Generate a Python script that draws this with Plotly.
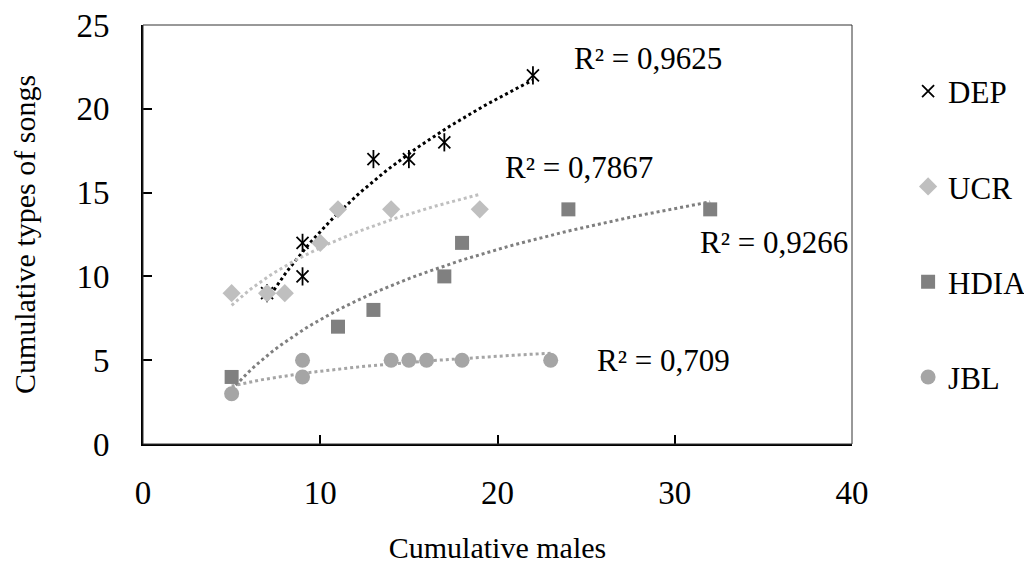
import numpy as np
import plotly.graph_objects as go

# ---- data ----
dep_x = [7, 9, 9, 13, 15, 17, 22]
dep_y = [9, 12, 10, 17, 17, 18, 22]
ucr_x = [5, 7, 8, 10, 11, 14, 19]
ucr_y = [9, 9, 9, 12, 14, 14, 14]
hdia_x = [5, 11, 13, 17, 18, 24, 32]
hdia_y = [4, 7, 8, 10, 12, 14, 14]
jbl_x = [5, 9, 9, 14, 15, 16, 18, 23]
jbl_y = [3, 5, 4, 5, 5, 5, 5, 5]
r2_labels = ["R² = 0,9625", "R² = 0,7867", "R² = 0,9266", "R² = 0,709"]
series_names = ["DEP", "UCR", "HDIA", "JBL"]
x_ticks = [0, 10, 20, 30, 40]
y_ticks = [0, 5, 10, 15, 20, 25]

FONT = "Liberation Serif"

series = [
    dict(name="DEP", x=dep_x, y=dep_y, color="#000000",
         marker=dict(symbol="x-thin-open", size=12, color="#000000",
                     line=dict(color="#000000", width=1.8))),
    dict(name="UCR", x=ucr_x, y=ucr_y, color="#BFBFBF",
         marker=dict(symbol="diamond", size=14, color="#BFBFBF")),
    dict(name="HDIA", x=hdia_x, y=hdia_y, color="#7F7F7F",
         marker=dict(symbol="square", size=14, color="#808080")),
    dict(name="JBL", x=jbl_x, y=jbl_y, color="#A5A5A5",
         marker=dict(symbol="circle", size=15, color="#A5A5A5")),
]

fig = go.Figure()

# logarithmic trendlines (least squares fit of y = a ln x + b)
for s in series:
    xs = np.array(s["x"], dtype=float)
    ys = np.array(s["y"], dtype=float)
    a, b = np.polyfit(np.log(xs), ys, 1)
    xt = np.linspace(xs.min(), xs.max(), 60)
    fig.add_trace(go.Scatter(x=xt, y=a * np.log(xt) + b, mode="lines",
                             line=dict(color=s["color"], width=3, dash="dot"),
                             showlegend=False, hoverinfo="skip"))

for i, s in enumerate(series):
    if s["name"] == "DEP":
        # vertical bar of the asterisk marker
        fig.add_trace(go.Scatter(x=s["x"], y=s["y"], mode="markers", showlegend=False,
                                 marker=dict(symbol="line-ns-open", size=13, color="#000",
                                             line=dict(color="#000", width=1.8)),
                                 hoverinfo="skip"))
    fig.add_trace(go.Scatter(x=s["x"], y=s["y"], mode="markers", name=s["name"],
                             marker=s["marker"], legendgroup=s["name"]))

ann_pos = [(24.2, 23.0), (20.3, 16.5), (31.3, 12.05), (25.5, 5.0)]
for (ax, ay), txt in zip(ann_pos, r2_labels):
    fig.add_annotation(x=ax, y=ay, text=txt, showarrow=False, xanchor="left",
                       yanchor="middle", font=dict(family=FONT, size=31, color="#000"))

# thin frame around plot area
fig.add_shape(type="rect", xref="x domain", yref="y domain", x0=0, y0=0, x1=1, y1=1,
              line=dict(color="#333", width=1))

# the page body adds an 8px margin, so the figure is sized to fit inside it
fig.update_layout(
    template="none",
    width=1024, height=559,
    margin=dict(l=135, r=180, t=17, b=123),
    paper_bgcolor="white", plot_bgcolor="white",
    font=dict(family=FONT, color="#000"),
    showlegend=True,
    legend=dict(xref="container", yref="container", x=0.879, y=0.899,
                xanchor="left", yanchor="top", tracegroupgap=52, maxheight=540,
                font=dict(family=FONT, size=31, color="#000"),
                itemwidth=30, bgcolor="rgba(0,0,0,0)"),
    xaxis=dict(range=[0, 40], tickvals=x_ticks, ticks="inside", ticklen=9, tickwidth=2,
               tickcolor="#000", showline=True, linewidth=2, linecolor="#000",
               showgrid=False, zeroline=False, ticklabelstandoff=18, automargin=False,
               ticklabeloverflow="allow",
               tickfont=dict(family=FONT, size=33, color="#000"),
               title=dict(text="Cumulative males", standoff=27,
                          font=dict(family=FONT, size=30, color="#000"))),
    yaxis=dict(range=[0, 25], tickvals=y_ticks, ticks="inside", ticklen=9, tickwidth=2,
               tickcolor="#000", showline=True, linewidth=2, linecolor="#000",
               showgrid=False, zeroline=False, ticklabelstandoff=25, automargin=False,
               ticklabeloverflow="allow",
               tickfont=dict(family=FONT, size=33, color="#000"),
               title=dict(text="Cumulative types of songs", standoff=44,
                          font=dict(family=FONT, size=30, color="#000"))),
)

fig.write_html("out.html")
